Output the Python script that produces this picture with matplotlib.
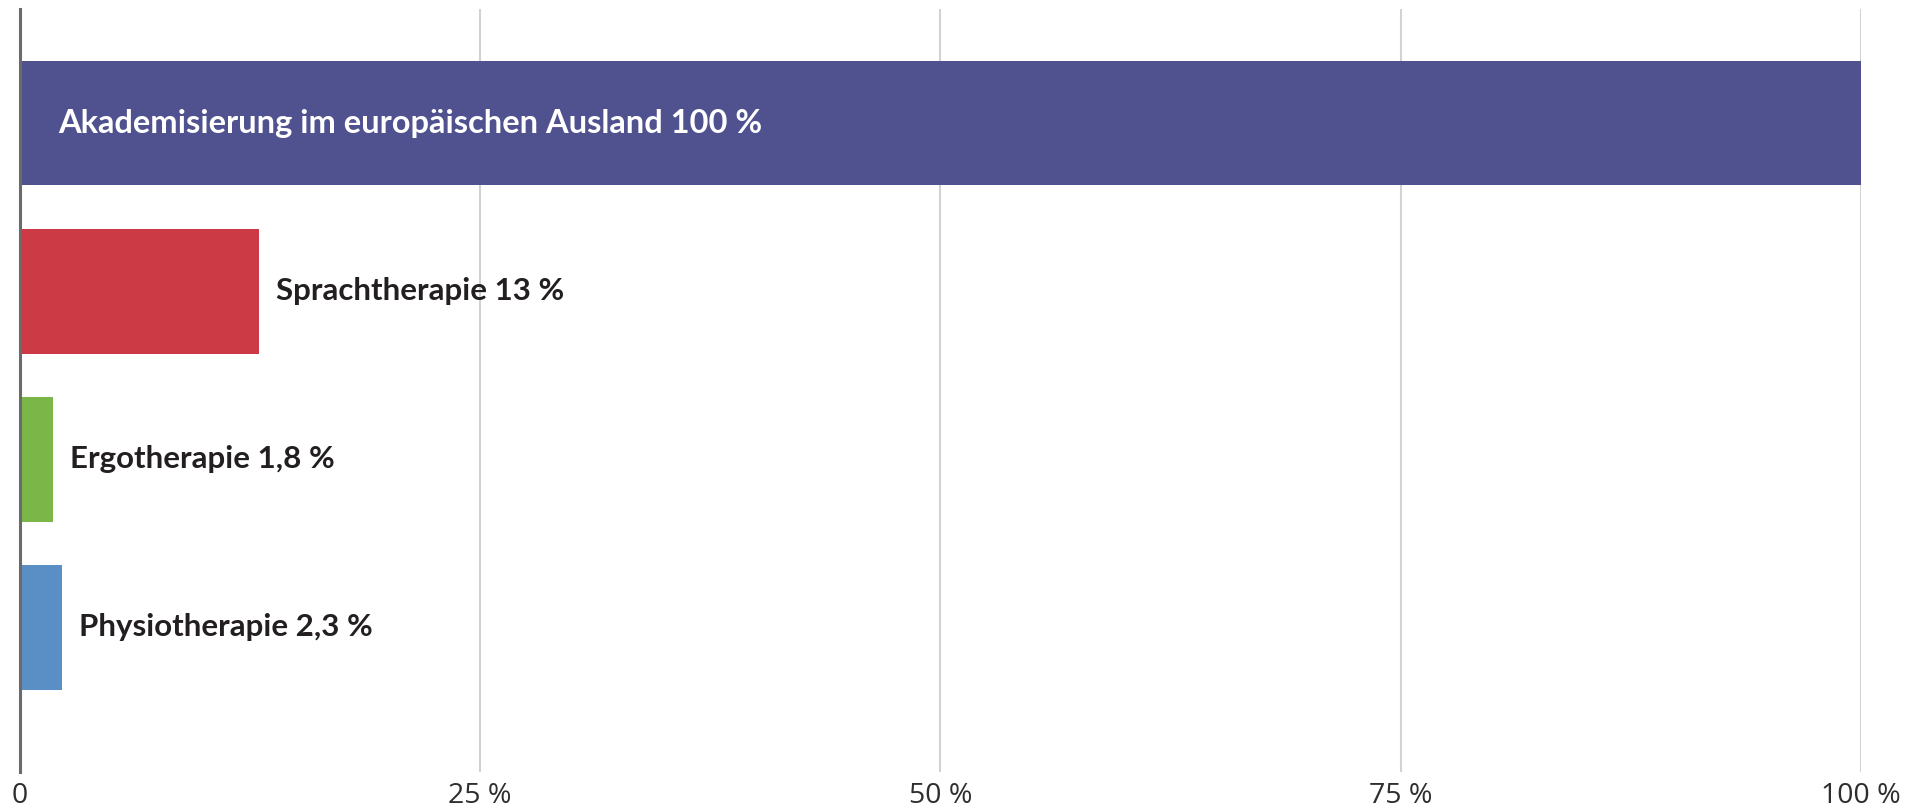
import matplotlib
matplotlib.use("Agg")
import matplotlib.pyplot as plt

categories = ["Akademisierung im europäischen Ausland", "Sprachtherapie", "Ergotherapie", "Physiotherapie"]
values = [100, 13, 1.8, 2.3]
value_labels = ["100 %", "13 %", "1,8 %", "2,3 %"]
colors = ["#50528f", "#cb3a45", "#7ab648", "#5a8fc6"]
tick_values = [0, 25, 50, 75, 100]
tick_labels = ["0", "25 %", "50 %", "75 %", "100 %"]

label_font = ["Lato", "DejaVu Sans"]
tick_font = ["Open Sans", "DejaVu Sans"]

fig = plt.figure(figsize=(19.25, 8.11), dpi=100)
ax = fig.add_axes([19.6/1925, 1-772/811, (1861-19.6)/1925, (772-9)/811])

pos = list(range(len(categories)))
ax.barh(pos, values, height=0.74, color=colors, zorder=2)

for x in tick_values[1:]:
    ax.axvline(x, color="#d2d2d2", lw=1.5, zorder=1)

for i, (c, v, lab) in enumerate(zip(categories, values, value_labels)):
    txt = c + " " + lab
    if v > 50:
        # label sits inside the long bar
        ax.text(2.08, i, txt, color="white", fontsize=23.5, fontweight="bold",
                family=label_font, va="center", ha="left", zorder=3)
    else:
        ax.annotate(txt, (v, i), xytext=(12.5, 0), textcoords="offset points",
                    color="#231f20", fontsize=22.5, fontweight="bold",
                    family=label_font, va="center", ha="left", zorder=3)

ax.set_xlim(0, 100)
ax.set_ylim(3.86, -0.68)
ax.set_yticks([])
ax.set_xticks(tick_values)
ax.set_xticklabels(tick_labels, family=tick_font, fontsize=20.5, color="#2e2e2e")
ax.tick_params(axis="x", length=0, pad=7)

for s in ["top", "right", "bottom"]:
    ax.spines[s].set_visible(False)
ax.spines["left"].set_color("#6b6b6b")
ax.spines["left"].set_linewidth(2.2)
ax.spines["left"].set_zorder(4)

fig.savefig("out.png", dpi=100)
